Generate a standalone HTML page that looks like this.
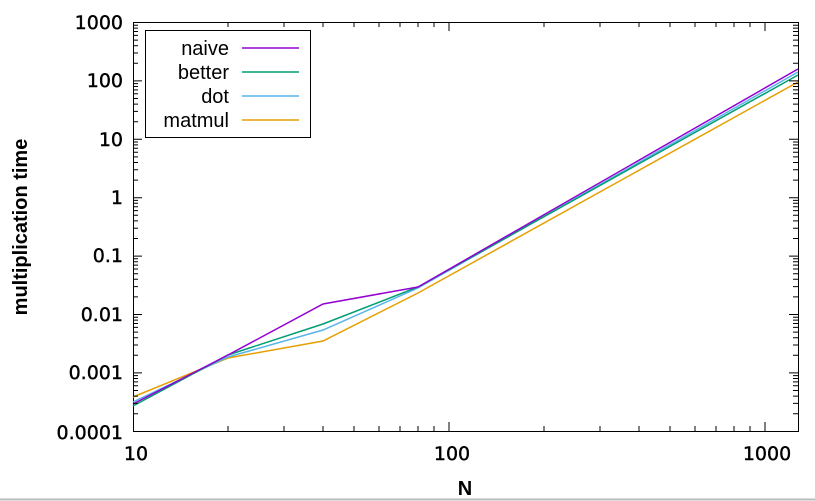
<!DOCTYPE html>
<html><head><style>body{margin:0;background:#fff}svg{display:block}</style></head><body>
<svg width="815" height="501" xmlns="http://www.w3.org/2000/svg" font-family="DejaVu Sans, sans-serif">
<rect width="815" height="501" fill="#fff"/>
<g stroke="#000" stroke-width="1" fill="none">
<rect x="133.5" y="22.5" width="665" height="409"/>
</g>
<g font-size="19" text-anchor="end" fill="#000" stroke="#000" stroke-width="0.4">
<text x="123" y="29">1000</text><text x="123" y="87">100</text><text x="123" y="146">10</text>
<text x="123" y="204">1</text><text x="123" y="262">0.1</text><text x="123" y="321">0.01</text>
<text x="123" y="379">0.001</text><text x="123" y="439">0.0001</text>
</g>
<g font-size="19" text-anchor="middle" fill="#000" stroke="#000" stroke-width="0.4">
<text x="136" y="460">10</text><text x="452" y="460">100</text><text x="767" y="460">1000</text>
</g>
<g font-size="20" font-weight="bold" text-anchor="middle" font-family="Liberation Sans, sans-serif">
<text x="465" y="495">N</text>
<text transform="translate(27,227) rotate(-90)">multiplication time</text>
</g>
<line x1="0" y1="499.5" x2="815" y2="499.5" stroke="#bbb" stroke-width="2"/>
<g fill="none" stroke-width="1.5">
<polyline stroke="#e69f00" points="133,397 228,358 323,341 418,293 798,82"/>
<polyline stroke="#56b4e9" points="133,402 228,357 323,330 418,288 798,72"/>
<polyline stroke="#009e73" points="133,406 228,355 323,324 418,287 798,75"/>
<polyline stroke="#9400d3" points="133,404 228,355 323,304 418,287 798,69"/>
</g>
<rect x="145.5" y="30.5" width="165" height="107" fill="#fff" stroke="#000"/>
<g font-size="20" text-anchor="end" font-family="Liberation Sans, sans-serif">
<text x="229" y="55">naive</text><text x="229" y="79">better</text><text x="229" y="103">dot</text><text x="229" y="127">matmul</text>
</g>
<g stroke-width="1.5">
<line x1="242" y1="48" x2="299" y2="48" stroke="#9400d3"/>
<line x1="242" y1="72" x2="299" y2="72" stroke="#009e73"/>
<line x1="242" y1="96" x2="299" y2="96" stroke="#56b4e9"/>
<line x1="242" y1="120" x2="299" y2="120" stroke="#e69f00"/>
</g>
<g stroke="#000" stroke-width="1">
<path d="
M133,22.5h9M798,22.5h-9M133,80.9h9M798,80.9h-9M133,139.3h9M798,139.3h-9M133,197.7h9M798,197.7h-9M133,256.1h9M798,256.1h-9M133,314.5h9M798,314.5h-9M133,372.9h9M798,372.9h-9
M133,63.3h5M798,63.3h-5M133,53.0h5M798,53.0h-5M133,45.7h5M798,45.7h-5M133,40.1h5M798,40.1h-5M133,35.4h5M798,35.4h-5M133,31.5h5M798,31.5h-5M133,28.1h5M798,28.1h-5M133,25.2h5M798,25.2h-5
M133,121.7h5M798,121.7h-5M133,111.4h5M798,111.4h-5M133,104.1h5M798,104.1h-5M133,98.5h5M798,98.5h-5M133,93.8h5M798,93.8h-5M133,89.9h5M798,89.9h-5M133,86.5h5M798,86.5h-5M133,83.6h5M798,83.6h-5
M133,180.1h5M798,180.1h-5M133,169.8h5M798,169.8h-5M133,162.5h5M798,162.5h-5M133,156.9h5M798,156.9h-5M133,152.2h5M798,152.2h-5M133,148.3h5M798,148.3h-5M133,144.9h5M798,144.9h-5M133,142.0h5M798,142.0h-5
M133,238.5h5M798,238.5h-5M133,228.2h5M798,228.2h-5M133,220.9h5M798,220.9h-5M133,215.3h5M798,215.3h-5M133,210.6h5M798,210.6h-5M133,206.7h5M798,206.7h-5M133,203.3h5M798,203.3h-5M133,200.4h5M798,200.4h-5
M133,296.9h5M798,296.9h-5M133,286.6h5M798,286.6h-5M133,279.3h5M798,279.3h-5M133,273.7h5M798,273.7h-5M133,269.0h5M798,269.0h-5M133,265.1h5M798,265.1h-5M133,261.7h5M798,261.7h-5M133,258.8h5M798,258.8h-5
M133,355.3h5M798,355.3h-5M133,345.0h5M798,345.0h-5M133,337.7h5M798,337.7h-5M133,332.1h5M798,332.1h-5M133,327.4h5M798,327.4h-5M133,323.5h5M798,323.5h-5M133,320.1h5M798,320.1h-5M133,317.2h5M798,317.2h-5
M133,413.7h5M798,413.7h-5M133,403.4h5M798,403.4h-5M133,396.1h5M798,396.1h-5M133,390.5h5M798,390.5h-5M133,385.8h5M798,385.8h-5M133,381.9h5M798,381.9h-5M133,378.5h5M798,378.5h-5M133,375.6h5M798,375.6h-5
"/>
<path d="
M449,431v-9M449,22v9M765,431v-9M765,22v9
M228,431v-5M228,22v5M284,431v-5M284,22v5M323,431v-5M323,22v5M354,431v-5M354,22v5M379,431v-5M379,22v5M400,431v-5M400,22v5M418,431v-5M418,22v5M434,431v-5M434,22v5
M544,431v-5M544,22v5M600,431v-5M600,22v5M639,431v-5M639,22v5M670,431v-5M670,22v5M695,431v-5M695,22v5M716,431v-5M716,22v5M734,431v-5M734,22v5M750,431v-5M750,22v5
"/>
</g>
</svg>
</body></html>
